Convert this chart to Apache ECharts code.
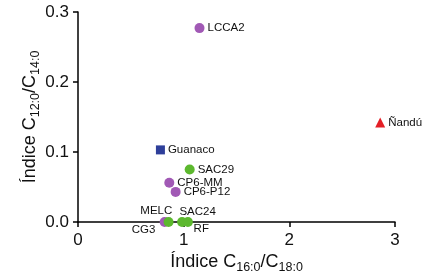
<!DOCTYPE html>
<html><head><meta charset="utf-8">
<script src="https://cdn.jsdelivr.net/npm/echarts@6/dist/echarts.min.js"></script>
<style>html,body{margin:0;padding:0;background:#fff}#c{width:429px;height:276px}</style>
</head><body><div id="c"></div>
<script>
const purpleNames = ['LCCA2', 'CP6-MM', 'CP6-P12', 'CG3'];
const purpleX = [1.15, 0.864, 0.924, 0.82];
const purpleY = [0.277, 0.056, 0.043, 0.0];
const greenNames = ['SAC29', 'MELC', 'SAC24', 'RF'];
const greenX = [1.057, 0.857, 0.985, 1.04];
const greenY = [0.075, 0.0, 0.0, 0.0];
const guanacoNames = ['Guanaco'];
const guanacoX = [0.78];
const guanacoY = [0.103];
const nanduNames = ['Ñandú'];
const nanduX = [2.86];
const nanduY = [0.142];
const xTicks = [0, 1, 2, 3];
const yTicks = [0.0, 0.1, 0.2, 0.3];

const FONT = 'Liberation Sans, Arial, sans-serif';
const labelStyles = {
  'MELC': {position: [8.7, -6], align: 'right', verticalAlign: 'middle'},
  'CG3': {position: [-4.3, 13], align: 'right', verticalAlign: 'middle'},
  'SAC24': {position: [2.3, -5], align: 'left', verticalAlign: 'middle'},
  'RF': {position: [10.7, 12], align: 'left', verticalAlign: 'middle'}
};
function build(names, xs, ys) {
  return names.map((n, i) => {
    const d = {name: n, value: [xs[i], ys[i]]};
    if (labelStyles[n]) d.label = labelStyles[n];
    return d;
  });
}
const baseLabel = {show: true, formatter: '{b}', position: 'right', distance: 3,
  color: '#111', fontSize: 11.5, fontFamily: FONT};
const nameRich = {
  t: {fontSize: 18, fontFamily: FONT, color: '#111'},
  s: {fontSize: 12.5, fontFamily: FONT, color: '#111', padding: [10, 0, 0, 0]}
};

const chart = echarts.init(document.getElementById('c'), null, {renderer: 'canvas'});
chart.setOption({
  animation: false,
  grid: {left: 78, right: 34, top: 12, bottom: 54, containLabel: false, outerBoundsMode: 'none'},
  xAxis: {
    type: 'value', min: xTicks[0], max: xTicks[xTicks.length - 1], interval: 1,
    splitLine: {show: false},
    axisLine: {onZero: false, lineStyle: {color: '#000', width: 1.5}},
    axisTick: {show: true, length: 5, lineStyle: {color: '#000', width: 1.5}},
    axisLabel: {color: '#111', fontSize: 17, fontFamily: FONT, margin: 10},
    name: '{t|Índice C}{s|16:0}{t|/C}{s|18:0}', nameLocation: 'middle', nameGap: 29,
    nameMoveOverlap: false,
    nameTextStyle: {rich: nameRich}
  },
  yAxis: {
    type: 'value', min: yTicks[0], max: yTicks[yTicks.length - 1], interval: 0.1,
    splitLine: {show: false},
    axisLine: {onZero: false, lineStyle: {color: '#000', width: 1.5}},
    axisTick: {show: true, length: 5, lineStyle: {color: '#000', width: 1.5}},
    axisLabel: {color: '#111', fontSize: 17, fontFamily: FONT, margin: 9,
      formatter: v => v.toFixed(1)},
    name: '{t|Índice C}{s|12:0}{t|/C}{s|14:0}', nameLocation: 'middle', nameGap: 36, nameRotate: 90,
    nameMoveOverlap: false,
    nameTextStyle: {rich: nameRich}
  },
  series: [
    {type: 'scatter', symbol: 'circle', symbolSize: 10, itemStyle: {color: '#a159b5', opacity: 1},
      data: build(purpleNames, purpleX, purpleY), label: baseLabel},
    {type: 'scatter', symbol: 'circle', symbolSize: 10, itemStyle: {color: '#5cb82e', opacity: 1},
      data: build(greenNames, greenX, greenY), label: baseLabel},
    {type: 'scatter', symbol: 'rect', symbolSize: 9, itemStyle: {color: '#2e3f9a', opacity: 1},
      data: build(guanacoNames, guanacoX, guanacoY), label: baseLabel},
    {type: 'scatter', symbol: 'triangle', symbolSize: 10, itemStyle: {color: '#e41f26', opacity: 1},
      data: build(nanduNames, nanduX, nanduY), label: baseLabel}
  ]
});
</script></body></html>
